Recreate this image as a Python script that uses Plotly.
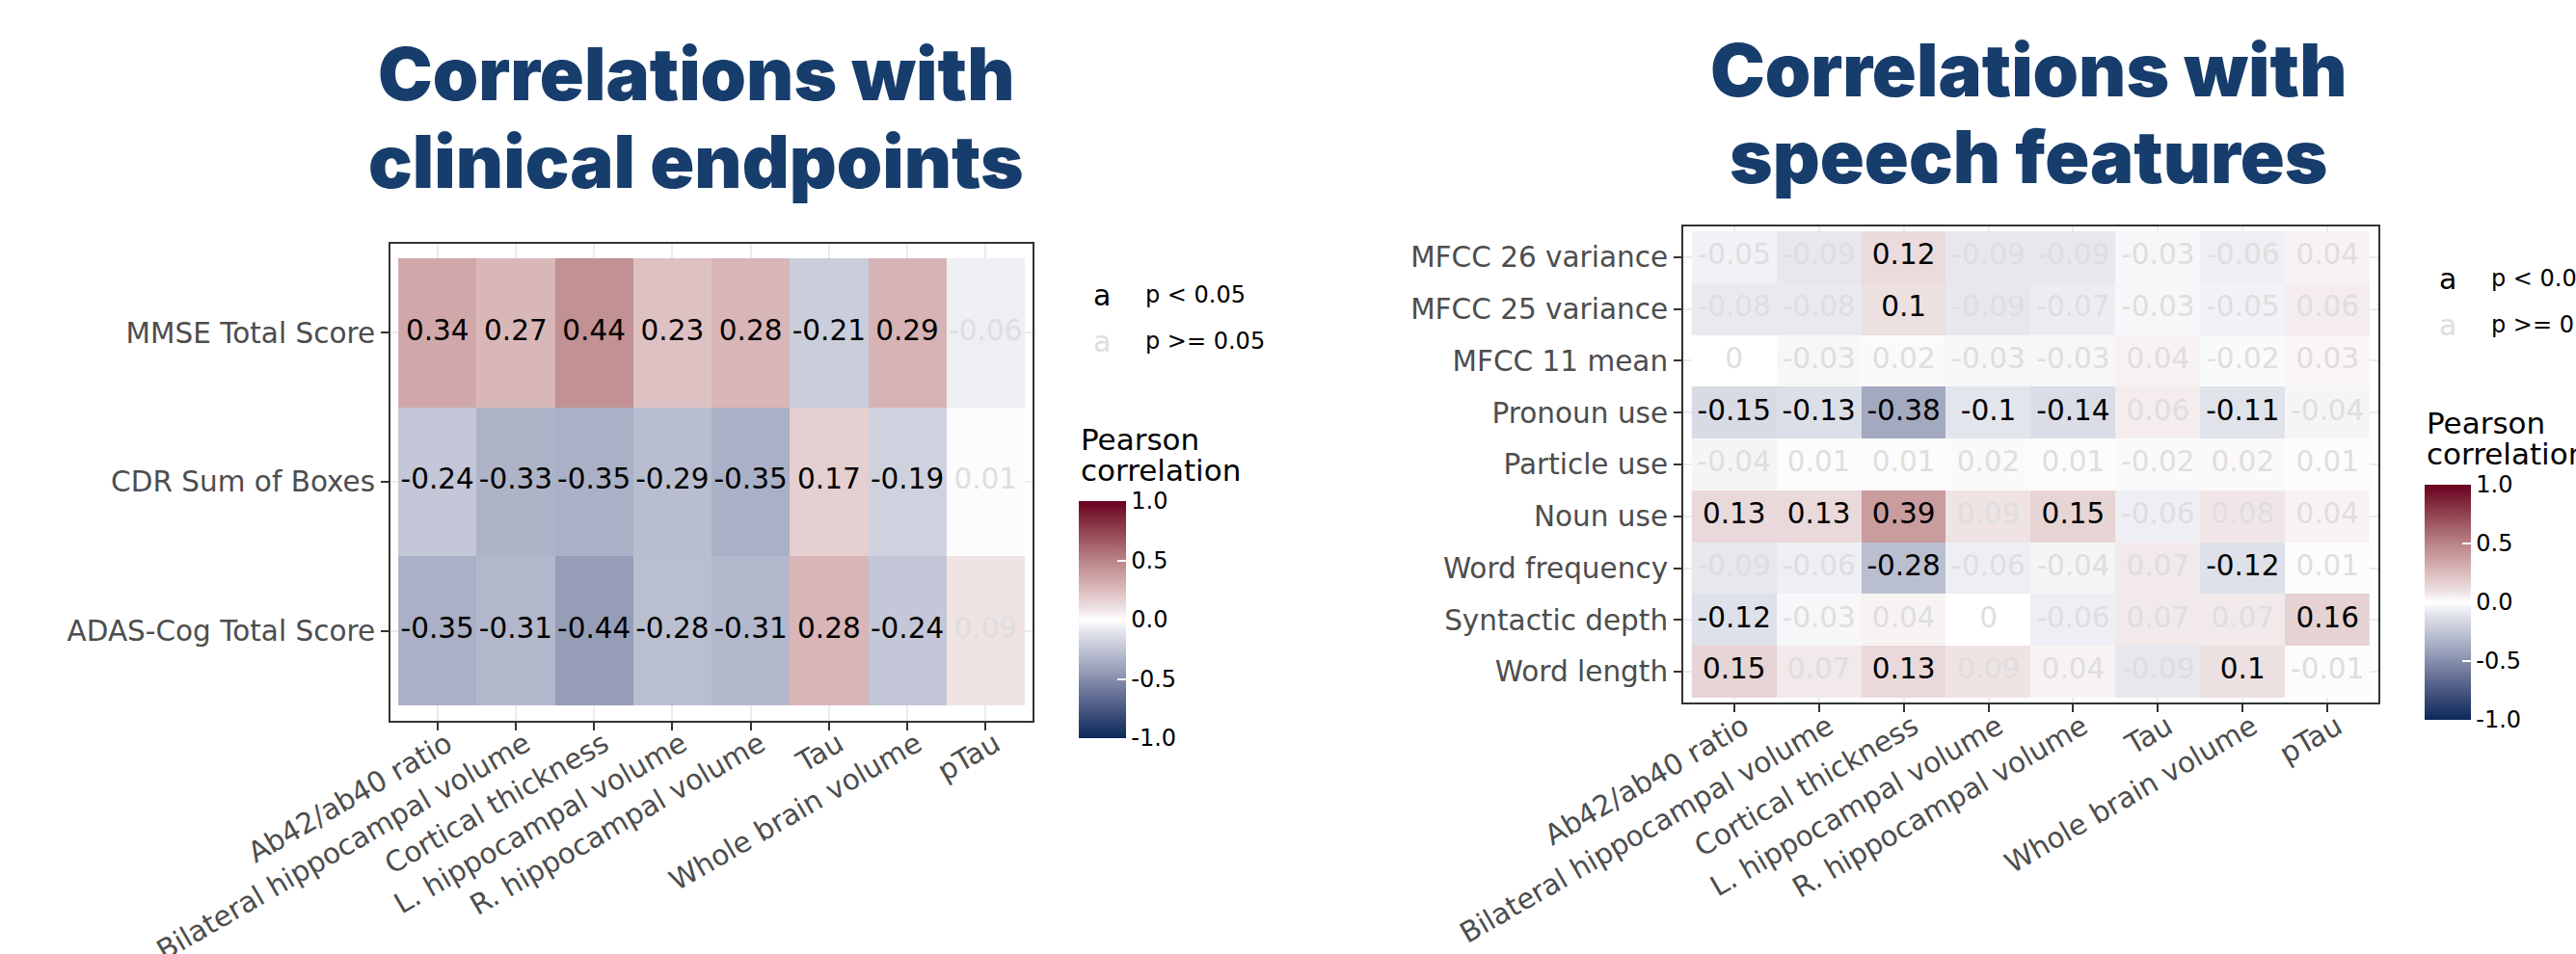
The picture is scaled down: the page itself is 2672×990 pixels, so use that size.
import plotly.graph_objects as go

W, H = 2672, 990

# ---- data -------------------------------------------------------------
biomarkers = [
    "Ab42/ab40 ratio", "Bilateral hippocampal volume", "Cortical thickness",
    "L. hippocampal volume", "R. hippocampal volume", "Tau",
    "Whole brain volume", "pTau",
]

clinical_rows = ["MMSE Total Score", "CDR Sum of Boxes", "ADAS-Cog Total Score"]
clinical_r = [
    [0.34, 0.27, 0.44, 0.23, 0.28, -0.21, 0.29, -0.06],
    [-0.24, -0.33, -0.35, -0.29, -0.35, 0.17, -0.19, 0.01],
    [-0.35, -0.31, -0.44, -0.28, -0.31, 0.28, -0.24, 0.09],
]
clinical_sig = [
    [1, 1, 1, 1, 1, 1, 1, 0],
    [1, 1, 1, 1, 1, 1, 1, 0],
    [1, 1, 1, 1, 1, 1, 1, 0],
]

speech_rows = [
    "MFCC 26 variance", "MFCC 25 variance", "MFCC 11 mean", "Pronoun use",
    "Particle use", "Noun use", "Word frequency", "Syntactic depth", "Word length",
]
speech_r = [
    [-0.05, -0.09, 0.12, -0.09, -0.09, -0.03, -0.06, 0.04],
    [-0.08, -0.08, 0.1, -0.09, -0.07, -0.03, -0.05, 0.06],
    [0, -0.03, 0.02, -0.03, -0.03, 0.04, -0.02, 0.03],
    [-0.15, -0.13, -0.38, -0.1, -0.14, 0.06, -0.11, -0.04],
    [-0.04, 0.01, 0.01, 0.02, 0.01, -0.02, 0.02, 0.01],
    [0.13, 0.13, 0.39, 0.09, 0.15, -0.06, 0.08, 0.04],
    [-0.09, -0.06, -0.28, -0.06, -0.04, 0.07, -0.12, 0.01],
    [-0.12, -0.03, 0.04, 0, -0.06, 0.07, 0.07, 0.16],
    [0.15, 0.07, 0.13, 0.09, 0.04, -0.09, 0.1, -0.01],
]
speech_sig = [
    [0, 0, 1, 0, 0, 0, 0, 0],
    [0, 0, 1, 0, 0, 0, 0, 0],
    [0, 0, 0, 0, 0, 0, 0, 0],
    [1, 1, 1, 1, 1, 0, 1, 0],
    [0, 0, 0, 0, 0, 0, 0, 0],
    [1, 1, 1, 0, 1, 0, 0, 0],
    [0, 0, 1, 0, 0, 0, 1, 0],
    [1, 0, 0, 0, 0, 0, 0, 1],
    [1, 0, 1, 0, 0, 0, 1, 0],
]

cbar_vals = [-1, -0.5, 0, 0.5, 1]
cbar_text = ["-1.0", "-0.5", "0.0", "0.5", "1.0"]

# ---- styling ----------------------------------------------------------
FONT = "DejaVu Sans"
TITLE_FONT = "Inter"
TITLE_COLOR = "#173d6c"
SIG_COLOR = "#000000"
NS_COLOR = "#dedede"
LABEL_COLOR = "#4d4d4d"
CELL_SIZE = 29.5

# diverging navy - white - burgundy
colorscale = [
    [0.000, "#0b2859"],
    [0.125, "#4a5882"],
    [0.250, "#868ead"],
    [0.280, "#959db7"],
    [0.375, "#c1c5d5"],
    [0.450, "#e3e5ec"],
    [0.500, "#ffffff"],
    [0.550, "#ede0e1"],
    [0.625, "#dcbcbe"],
    [0.720, "#c29193"],
    [0.750, "#b98488"],
    [0.875, "#924350"],
    [1.000, "#67001f"],
]


def px_x(v):
    return v / W


def px_y(v):
    return 1 - v / H


def fmt(v):
    return f"{v:g}"


fig = go.Figure()


def add_panel(rows, values, sig, xa, ya, cax):
    fig.add_trace(go.Heatmap(
        z=values, x=biomarkers, y=rows, coloraxis=cax,
        xaxis=xa, yaxis=ya, hoverinfo="skip",
    ))
    for flag, color in ((1, SIG_COLOR), (0, NS_COLOR)):
        xs, ys, ts = [], [], []
        for i, r in enumerate(rows):
            for j, c in enumerate(biomarkers):
                if sig[i][j] == flag:
                    xs.append(c)
                    ys.append(r)
                    ts.append(fmt(values[i][j]))
        fig.add_trace(go.Scatter(
            x=xs, y=ys, text=ts, mode="text", xaxis=xa, yaxis=ya,
            textfont=dict(family=FONT, size=CELL_SIZE, color=color),
            showlegend=False, hoverinfo="skip",
        ))


add_panel(clinical_rows, clinical_r, clinical_sig, "x", "y", "coloraxis")
add_panel(speech_rows, speech_r, speech_sig, "x2", "y2", "coloraxis2")


def xaxis_style(domain, anchor):
    return dict(
        domain=domain, anchor=anchor, type="category", automargin=False,
        range=[-0.6, len(biomarkers) - 0.4],
        showline=True, mirror=True, linecolor="#333333", linewidth=2,
        showgrid=True, gridcolor="#ebebeb", gridwidth=2,
        ticks="outside", ticklen=8, tickwidth=2, tickcolor="#333333",
        tickangle=-30, ticklabelstandoff=-14, ticklabelshift=10,
        tickfont=dict(family=FONT, size=CELL_SIZE, color=LABEL_COLOR),
        zeroline=False,
    )


def yaxis_style(domain, anchor, n):
    return dict(
        domain=domain, anchor=anchor, type="category", automargin=False,
        range=[n - 0.4, -0.6],
        showline=True, mirror=True, linecolor="#333333", linewidth=2,
        showgrid=True, gridcolor="#ebebeb", gridwidth=2,
        ticks="outside", ticklen=8, tickwidth=2, tickcolor="#333333",
        tickfont=dict(family=FONT, size=CELL_SIZE, color=LABEL_COLOR),
        zeroline=False,
    )


def colorbar(x_left, y_top, length, thick):
    return dict(
        x=px_x(x_left), xanchor="left", xref="paper",
        y=px_y(y_top), yanchor="top", yref="paper",
        len=length, lenmode="pixels", thickness=thick, thicknessmode="pixels",
        xpad=0, ypad=0, outlinewidth=0,
        tickmode="array", tickvals=cbar_vals, ticktext=cbar_text,
        ticks="inside", ticklen=9, tickwidth=2, tickcolor="#ffffff",
        tickfont=dict(family=FONT, size=24, color="#000000"),
    )


fig.update_layout(
    width=W, height=H,
    margin=dict(l=0, r=0, t=0, b=0, autoexpand=False),
    paper_bgcolor="white", plot_bgcolor="white",
    showlegend=False,
    xaxis=xaxis_style([px_x(405), px_x(1071)], "y"),
    yaxis=yaxis_style([px_y(747.5), px_y(252.5)], "x", len(clinical_rows)),
    xaxis2=xaxis_style([px_x(1746), px_x(2467)], "y2"),
    yaxis2=yaxis_style([px_y(729.4), px_y(234.6)], "x2", len(speech_rows)),
    coloraxis=dict(cmin=-1, cmax=1, colorscale=colorscale,
                   colorbar=colorbar(1119, 520, 246, 49)),
    coloraxis2=dict(cmin=-1, cmax=1, colorscale=colorscale,
                    colorbar=colorbar(2515, 503, 244, 48)),
)

annotations = []


def note(text, x, y, size, color="#000000", family=FONT, xanchor="center",
         weight="normal"):
    annotations.append(dict(
        text=text, x=px_x(x), y=px_y(y), xref="paper", yref="paper",
        xanchor=xanchor, yanchor="middle", showarrow=False,
        font=dict(family=family, size=size, color=color, weight=weight),
    ))


# panel headings
note("Correlations with", 722, 76, 76, TITLE_COLOR, TITLE_FONT, weight=900)
note("clinical endpoints", 722, 167, 76, TITLE_COLOR, TITLE_FONT, weight=900)
note("Correlations with", 2104, 72, 76, TITLE_COLOR, TITLE_FONT, weight=900)
note("speech features", 2104, 162, 76, TITLE_COLOR, TITLE_FONT, weight=900)

# significance keys and colour-bar headings
for (ax, ay, cx, cy) in ((1143, 306, 1119, 456), (2539, 289, 2515, 439)):
    note("a", ax, ay, 30, SIG_COLOR)
    note("p &lt; 0.05", ax + 43, ay, 24, xanchor="left")
    note("a", ax, ay + 48, 30, NS_COLOR)
    note("p &gt;= 0.05", ax + 43, ay + 48, 24, xanchor="left")
    note("Pearson", cx, cy, 31, xanchor="left")
    note("correlation", cx, cy + 32, 31, xanchor="left")

fig.update_layout(annotations=annotations)

fig.write_html("out.html")
